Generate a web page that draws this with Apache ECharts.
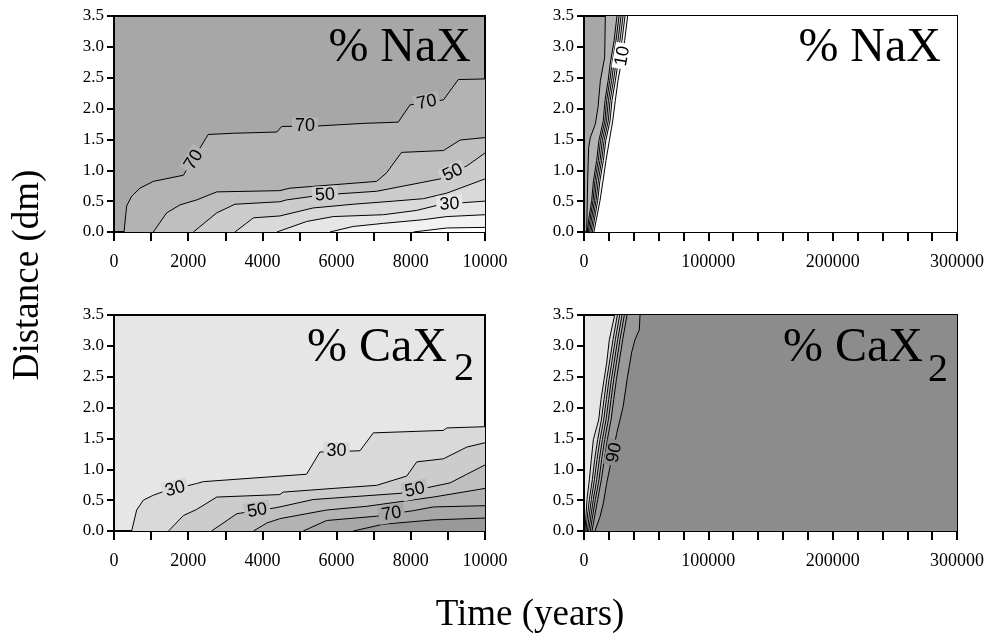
<!DOCTYPE html>
<html><head><meta charset="utf-8">
<script src="https://cdn.jsdelivr.net/npm/echarts@6/dist/echarts.min.js"></script>
<style>html,body{margin:0;padding:0;background:#fff}#c{width:991px;height:641px}</style>
</head><body><div id="c"></div>
<script>
// ---------- tick labels ----------
const xShortLabels = [0, 2000, 4000, 6000, 8000, 10000];
const xLongLabels = [0, 100000, 200000, 300000];
const yTickLabels = ['0.0', '0.5', '1.0', '1.5', '2.0', '2.5', '3.0', '3.5'];

// ---------- contour levels ----------
const naxShortLevels = [70, 60, 50, 40, 30, 20, 10];
const naxLongLevels = [70, 60, 50, 40, 30, 20, 10];
const caxShortLevels = [30, 40, 50, 60, 70, 80];
const caxLongLevels = [30, 40, 50, 60, 70, 80, 90];

// ---------- % NaX, 0-10000 years : contour lines [time, distance] ----------
const naxShort70 = [[270,0],[341,0.42],[476,0.58],[701,0.71],[1060,0.82],[1870,0.92],[2540,1.58],[3220,1.60],[4390,1.62],[4520,1.71],[5550,1.72],[6720,1.76],[7660,1.78],[7980,2.06],[8880,2.14],[9280,2.47],[10000,2.48]];
const naxShort60 = [[1060,0],[1420,0.31],[1780,0.44],[2230,0.52],[2770,0.65],[4470,0.67],[4740,0.71],[7080,0.82],[7350,0.96],[7750,1.29],[8880,1.32],[9330,1.49],[10000,1.53]];
const naxShort50 = [[2140,0],[2770,0.31],[3260,0.45],[4470,0.49],[4650,0.52],[5370,0.58],[6090,0.62],[7080,0.66],[8790,0.86],[9510,1.07],[10000,1.28]];
const naxShort40 = [[3260,0],[3760,0.23],[4470,0.26],[5370,0.39],[6450,0.45],[7530,0.50],[8340,0.54],[8970,0.63],[10000,0.86]];
const naxShort30 = [[4390,0],[5190,0.17],[5910,0.25],[7260,0.28],[8160,0.35],[8700,0.43],[9510,0.48],[10000,0.50]];
const naxShort20 = [[5820,0],[6450,0.09],[7260,0.14],[8340,0.20],[8970,0.25],[10000,0.28]];
const naxShort10 = [[8070,0],[8970,0.065],[10000,0.075]];
const naxShortLabels = [[2150,1.17,'70',58],[5150,1.715,'70',0],[8430,2.10,'70',12],[5690,0.598,'50',3],[9130,0.96,'50',26],[9040,0.45,'30',3]];

// ---------- % NaX, 0-300000 years ----------
const naxLong70 = [[2150,0],[2950,0.83],[3750,1.37],[5100,1.53],[9100,1.75],[11260,2.02],[13140,2.45],[16620,2.83],[17160,3.5]];
const naxLong60 = [[2700,0],[3600,0.18],[6200,0.51],[7600,0.83],[10200,1.16],[12000,1.48],[15500,1.8],[16900,2.13],[19400,2.45],[21000,2.72],[24200,3.1],[26500,3.5]];
const naxLong50 = [[3500,0],[4700,0.18],[7300,0.51],[8800,0.83],[11500,1.16],[13300,1.48],[16800,1.8],[18200,2.13],[20700,2.45],[22500,2.72],[25700,3.1],[28200,3.5]];
const naxLong40 = [[4600,0],[5800,0.18],[8500,0.51],[10100,0.83],[12900,1.16],[14700,1.48],[18100,1.8],[19600,2.13],[22200,2.45],[24000,2.72],[27300,3.1],[29800,3.5]];
const naxLong30 = [[5600,0],[7000,0.18],[9700,0.51],[11500,0.83],[14200,1.16],[16100,1.48],[19500,1.8],[21000,2.13],[23700,2.45],[25600,2.72],[28900,3.1],[31400,3.5]];
const naxLong20 = [[6700,0],[8200,0.18],[11000,0.51],[12800,0.83],[15600,1.16],[17500,1.48],[20900,1.8],[22500,2.13],[25200,2.45],[27200,2.72],[30500,3.1],[33000,3.5]];
const naxLong10 = [[8000,0],[9700,0.18],[12900,0.51],[15300,0.83],[17700,1.16],[20400,1.48],[23100,1.8],[25200,2.13],[27300,2.45],[29800,2.72],[32700,3.1],[35100,3.5]];
const naxLongLabels = [[31000,2.85,'10',80]];

// ---------- % CaX2, 0-10000 years ----------
const caxShort30 = [[476,0],[611,0.34],[791,0.50],[1060,0.58],[1290,0.63],[2230,0.77],[2410,0.80],[5190,0.92],[5550,1.28],[6630,1.30],[6990,1.59],[8880,1.63],[8970,1.67],[10000,1.69]];
const caxShort40 = [[1470,0],[1870,0.25],[2230,0.35],[2770,0.55],[4470,0.59],[4560,0.63],[5910,0.69],[7080,0.74],[7890,0.89],[8160,1.12],[8880,1.17],[9510,1.36],[10000,1.43]];
const caxShort50 = [[2630,0],[3310,0.28],[4390,0.38],[5370,0.51],[7710,0.61],[9060,0.78],[9510,0.92],[10000,1.07]];
const caxShort60 = [[3760,0],[4120,0.13],[4470,0.20],[5730,0.34],[6810,0.40],[8610,0.55],[10000,0.69]];
const caxShort70 = [[5100,0],[5730,0.17],[7080,0.24],[8070,0.33],[8610,0.39],[10000,0.41]];
const caxShort80 = [[6450,0],[7260,0.11],[8610,0.18],[10000,0.21]];
const caxShortLabels = [[1650,0.68,'30',15],[6000,1.29,'30',0],[3860,0.33,'50',10],[8110,0.665,'50',12],[7480,0.28,'70',9]];

// ---------- % CaX2, 0-300000 years ----------
const caxLong30 = [[800,0],[1340,0.18],[2410,0.51],[4290,0.83],[5900,1.16],[7510,1.48],[11800,1.8],[13670,2.13],[16090,2.45],[18230,2.72],[20380,3.1],[24670,3.5]];
const caxLong40 = [[1610,0],[2410,0.18],[4290,0.51],[6700,0.83],[8580,1.16],[10990,1.48],[13940,1.8],[16090,2.13],[18230,2.45],[20380,2.72],[23330,3.1],[26810,3.5]];
const caxLong50 = [[2680,0],[3750,0.18],[5900,0.51],[8310,0.83],[10460,1.16],[12870,1.48],[15820,1.8],[17960,2.13],[20110,2.45],[22250,2.72],[25200,3.1],[28690,3.5]];
const caxLong60 = [[3750,0],[5090,0.18],[7510,0.51],[10190,0.83],[12330,1.16],[14750,1.48],[17690,1.8],[19840,2.13],[21980,2.45],[24130,2.72],[27080,3.1],[30560,3.5]];
const caxLong70 = [[5090,0],[6430,0.18],[9120,0.51],[12060,0.83],[14210,1.16],[16620,1.48],[19570,1.8],[21720,2.13],[23860,2.45],[26010,2.72],[28950,3.1],[32440,3.5]];
const caxLong80 = [[6430,0],[8040,0.18],[10990,0.51],[13940,0.83],[16350,1.16],[18770,1.48],[21720,1.8],[23860,2.13],[26010,2.45],[28150,2.72],[31100,3.1],[34590,3.5]];
const caxLong90 = [[8850,0],[12870,0.23],[15550,0.45],[18230,0.77],[20910,1.04],[26300,1.58],[29500,1.85],[31500,2.02],[35000,2.5],[38400,2.9],[41020,3.1],[44500,3.26],[45040,3.5]];
const caxLongLabels = [[24500,1.27,'90',78]];

// ---------- styling ----------
const bandColors = ['#ffffff','#f2f2f2','#e6e6e6','#d9d9d9','#cccccc','#bfbfbf','#b3b3b3','#a7a7a7','#999999','#8c8c8c'];
const serif = '"Liberation Serif", "Times New Roman", serif';
const sans = '"Liberation Sans", Arial, sans-serif';

const panels = [
  { kind: 'nax', xMax: 10000, step: 1000, xl: xShortLabels, levels: naxShortLevels,
    lines: [naxShort70, naxShort60, naxShort50, naxShort40, naxShort30, naxShort20, naxShort10], labels: naxShortLabels,
    grid: { left: 114, top: 16, width: 371, height: 216 } },
  { kind: 'nax', xMax: 300000, step: 20000, xl: xLongLabels, levels: naxLongLevels,
    lines: [naxLong70, naxLong60, naxLong50, naxLong40, naxLong30, naxLong20, naxLong10], labels: naxLongLabels,
    grid: { left: 584, top: 16, width: 373, height: 216 } },
  { kind: 'cax', xMax: 10000, step: 1000, xl: xShortLabels, levels: caxShortLevels,
    lines: [caxShort30, caxShort40, caxShort50, caxShort60, caxShort70, caxShort80], labels: caxShortLabels,
    grid: { left: 114, top: 315, width: 371, height: 216 } },
  { kind: 'cax', xMax: 300000, step: 20000, xl: xLongLabels, levels: caxLongLevels,
    lines: [caxLong30, caxLong40, caxLong50, caxLong60, caxLong70, caxLong80, caxLong90], labels: caxLongLabels,
    grid: { left: 584, top: 315, width: 373, height: 216 } }
];
const yMax = 3.5;

function bandAfter(kind, level) { // colour of the region beyond a contour line
  return bandColors[kind === 'nax' ? (level - 10) / 10 : level / 10];
}

const grids = [], xAxes = [], yAxes = [], series = [];
panels.forEach((p, gi) => {
  grids.push(Object.assign({ show: true, borderColor: '#000', borderWidth: 2,
    backgroundColor: p.kind === 'nax' ? bandColors[7] : bandColors[2], outerBoundsMode: 'none' }, p.grid));
  xAxes.push({ type: 'value', gridIndex: gi, min: 0, max: p.xMax, interval: p.step,
    axisLine: { show: true, onZero: false, lineStyle: { color: '#000', width: 2 } },
    axisTick: { show: true, length: 9, lineStyle: { color: '#000', width: 2 } },
    splitLine: { show: false },
    axisLabel: { margin: 21, color: '#000', fontFamily: serif, fontSize: 18,
      formatter: v => p.xl.includes(v) ? String(v) : '' } });
  yAxes.push({ type: 'value', gridIndex: gi, min: 0, max: yMax, interval: 0.5,
    axisLine: { show: true, onZero: false, lineStyle: { color: '#000', width: 2 } },
    axisTick: { show: true, length: 7, lineStyle: { color: '#000', width: 2 } },
    splitLine: { show: false },
    axisLabel: { margin: 10, color: '#000', fontFamily: serif, fontSize: 17,
      formatter: v => yTickLabels[Math.round(v / 0.5)] } });
  // filled regions
  p.lines.forEach((ln, li) => {
    const poly = ln.concat([[p.xMax, yMax], [p.xMax, 0]]);
    const fill = bandAfter(p.kind, p.levels[li]);
    series.push({ type: 'custom', xAxisIndex: gi, yAxisIndex: gi, silent: true, clip: true, z: 1,
      data: [[0, 0]],
      renderItem: (params, api) => ({ type: 'polygon',
        shape: { points: poly.map(pt => api.coord(pt)) }, style: { fill: fill } }) });
  });
  // contour lines
  p.lines.forEach(ln => {
    series.push({ type: 'line', xAxisIndex: gi, yAxisIndex: gi, data: ln, symbol: 'none', silent: true,
      z: 3, lineStyle: { color: '#000', width: 1 } });
  });
  // contour labels
  series.push({ type: 'custom', xAxisIndex: gi, yAxisIndex: gi, silent: true, clip: false, z: 5,
    data: p.labels.map(l => [l[0], l[1]]),
    renderItem: (params, api) => {
      const l = p.labels[params.dataIndex];
      const c = api.coord([l[0], l[1]]);
      return { type: 'text', x: c[0], y: c[1], rotation: l[3] * Math.PI / 180,
        style: { text: l[2], fill: '#000', font: '18px ' + sans, align: 'center', verticalAlign: 'middle',
          backgroundColor: bandAfter(p.kind, +l[2]), padding: [0, 3] } };
    } });
});

const titleFont = '48px ' + serif;
const chart = echarts.init(document.getElementById('c'), null, { renderer: 'canvas' });
chart.setOption({
  animation: false,
  backgroundColor: '#fff',
  grid: grids, xAxis: xAxes, yAxis: yAxes, series: series,
  graphic: [
    { type: 'text', z: 100, x: 471, y: 48, style: { text: '% NaX', font: titleFont, align: 'right', verticalAlign: 'middle', fill: '#000' } },
    { type: 'text', z: 100, x: 941, y: 48, style: { text: '% NaX', font: titleFont, align: 'right', verticalAlign: 'middle', fill: '#000' } },
    { type: 'text', z: 100, x: 447, y: 348, style: { text: '% CaX', font: titleFont, align: 'right', verticalAlign: 'middle', fill: '#000' } },
    { type: 'text', z: 100, x: 454, y: 369, style: { text: '2', font: '40px ' + serif, align: 'left', verticalAlign: 'middle', fill: '#000' } },
    { type: 'text', z: 100, x: 923, y: 348, style: { text: '% CaX', font: titleFont, align: 'right', verticalAlign: 'middle', fill: '#000' } },
    { type: 'text', z: 100, x: 928, y: 370, style: { text: '2', font: '40px ' + serif, align: 'left', verticalAlign: 'middle', fill: '#000' } },
    { type: 'text', z: 100, x: 28, y: 275, rotation: Math.PI / 2, style: { text: 'Distance (dm)', font: '37px ' + serif, align: 'center', verticalAlign: 'middle', fill: '#000' } },
    { type: 'text', z: 100, x: 530, y: 615, style: { text: 'Time (years)', font: '37px ' + serif, align: 'center', verticalAlign: 'middle', fill: '#000' } }
  ]
});
</script></body></html>
